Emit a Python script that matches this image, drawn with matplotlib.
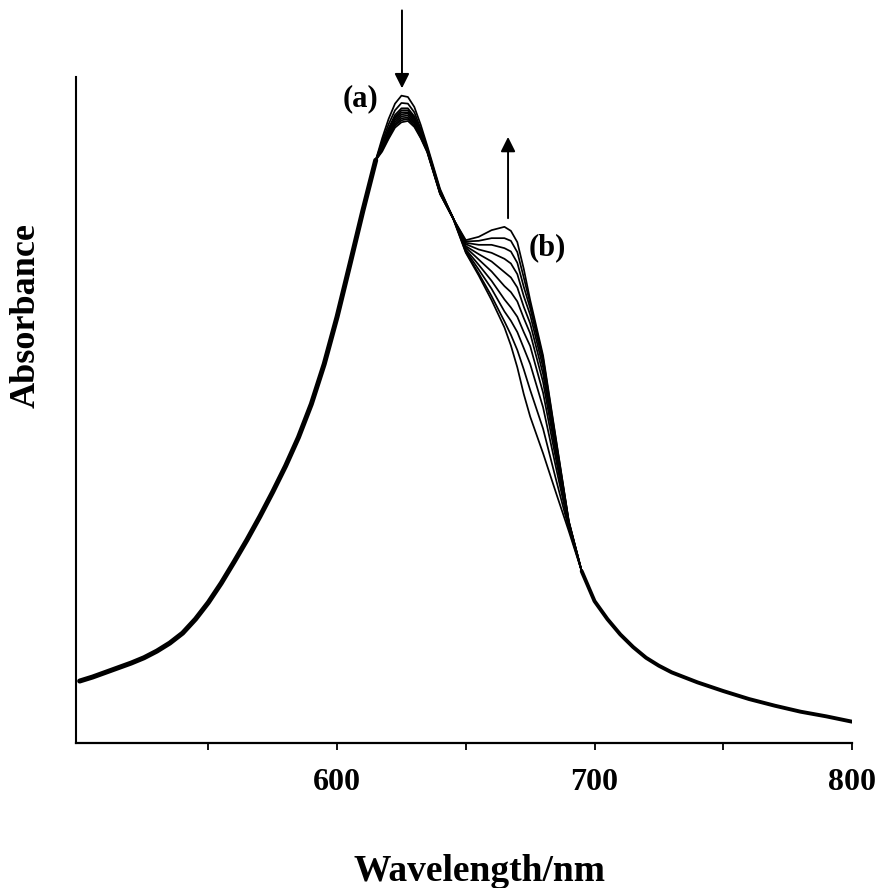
import matplotlib
matplotlib.use("Agg")
import matplotlib.pyplot as plt

plt.rcParams["font.family"] = ["Liberation Serif", "DejaVu Serif"]
plt.rcParams["font.weight"] = "bold"

# shared part of all spectra, blue side
wl_left = [500, 505, 510, 515, 520, 525, 530, 535, 540, 545, 550, 555, 560, 565,
           570, 575, 580, 585, 590, 595, 600, 605, 610, 615]
abs_left = [0.093, 0.099, 0.106, 0.113, 0.120, 0.128, 0.138, 0.150, 0.165, 0.186,
            0.211, 0.240, 0.272, 0.305, 0.340, 0.377, 0.416, 0.459, 0.509, 0.569,
            0.640, 0.719, 0.799, 0.875]

# shared part, red tail
wl_right = [695, 700, 705, 710, 715, 720, 725, 730, 740, 750, 760, 770, 780, 790, 800]
abs_right = [0.258, 0.213, 0.186, 0.163, 0.144, 0.128, 0.116, 0.106, 0.091, 0.078,
             0.066, 0.056, 0.047, 0.040, 0.032]

# main band, falls from scan to scan (a)
wl_peak = [617.5, 620, 622.5, 625, 627.5, 630, 632.5, 635]
peak_1 = [0.908, 0.937, 0.960, 0.972, 0.970, 0.955, 0.928, 0.897]
peak_2 = [0.903, 0.929, 0.950, 0.961, 0.960, 0.947, 0.922, 0.894]
peak_3 = [0.899, 0.923, 0.943, 0.953, 0.953, 0.941, 0.919, 0.892]
peak_4 = [0.897, 0.920, 0.940, 0.950, 0.950, 0.939, 0.917, 0.891]
peak_5 = [0.896, 0.918, 0.938, 0.947, 0.947, 0.937, 0.915, 0.891]
peak_6 = [0.894, 0.916, 0.935, 0.944, 0.945, 0.934, 0.914, 0.890]
peak_7 = [0.893, 0.914, 0.932, 0.941, 0.942, 0.932, 0.912, 0.889]
peak_8 = [0.891, 0.911, 0.929, 0.938, 0.939, 0.930, 0.911, 0.889]
peak_9 = [0.890, 0.909, 0.927, 0.935, 0.937, 0.927, 0.909, 0.888]
peak_10 = [0.888, 0.907, 0.924, 0.932, 0.934, 0.925, 0.908, 0.887]

# shoulder, grows from scan to scan (b)
wl_shoulder = [640, 645, 650, 655, 660, 665, 667.5, 670, 672.5, 675, 680, 685, 690]
shoulder_1 = [0.832, 0.788, 0.736, 0.702, 0.665, 0.624, 0.597, 0.564, 0.524, 0.490,
              0.435, 0.376, 0.318]
shoulder_2 = [0.830, 0.789, 0.737, 0.705, 0.671, 0.633, 0.613, 0.590, 0.561, 0.530,
              0.472, 0.396, 0.322]
shoulder_3 = [0.829, 0.789, 0.739, 0.711, 0.682, 0.648, 0.634, 0.617, 0.593, 0.569,
              0.504, 0.414, 0.325]
shoulder_4 = [0.828, 0.789, 0.741, 0.718, 0.694, 0.666, 0.654, 0.640, 0.617, 0.596,
              0.526, 0.426, 0.327]
shoulder_5 = [0.827, 0.789, 0.744, 0.726, 0.708, 0.686, 0.677, 0.663, 0.638, 0.615,
              0.542, 0.435, 0.329]
shoulder_6 = [0.826, 0.788, 0.746, 0.734, 0.723, 0.707, 0.699, 0.684, 0.655, 0.630,
              0.554, 0.442, 0.330]
shoulder_7 = [0.826, 0.788, 0.749, 0.741, 0.736, 0.727, 0.720, 0.704, 0.671, 0.643,
              0.564, 0.447, 0.331]
shoulder_8 = [0.825, 0.788, 0.751, 0.748, 0.748, 0.743, 0.738, 0.721, 0.685, 0.653,
              0.572, 0.451, 0.332]
shoulder_9 = [0.825, 0.788, 0.753, 0.754, 0.758, 0.758, 0.754, 0.737, 0.699, 0.660,
              0.578, 0.455, 0.333]
shoulder_10 = [0.824, 0.788, 0.755, 0.760, 0.770, 0.775, 0.769, 0.752, 0.712, 0.665,
               0.582, 0.457, 0.333]

peaks = [peak_1, peak_2, peak_3, peak_4, peak_5, peak_6, peak_7, peak_8, peak_9, peak_10]
shoulders = [shoulder_1, shoulder_2, shoulder_3, shoulder_4, shoulder_5,
             shoulder_6, shoulder_7, shoulder_8, shoulder_9, shoulder_10]

x_ticks = [550, 600, 650, 700, 750, 800]
x_ticklabels = ["", "600", "", "700", "", "800"]

fig = plt.figure(figsize=(8.76, 8.88), dpi=100)
ax = fig.add_axes([0.0868, 0.1633, 0.8858, 0.75])

wl_all = wl_left + wl_peak + wl_shoulder + wl_right
for p, s in zip(peaks, shoulders):
    ax.plot(wl_all, abs_left + p + s + abs_right,
            color="black", lw=1.25, solid_joinstyle="round")
# where the scans coincide they print as one thick band
ax.plot(wl_left, abs_left, color="black", lw=3.6, solid_capstyle="round")
ax.plot(wl_right, abs_right, color="black", lw=2.8, solid_capstyle="round")

ax.set_xlim(498.6, 800)
ax.set_ylim(0, 1)
ax.spines["top"].set_visible(False)
ax.spines["right"].set_visible(False)
ax.spines["left"].set_linewidth(1.5)
ax.spines["bottom"].set_linewidth(1.6)
ax.set_yticks([])
ax.set_xticks(x_ticks)
ax.set_xticklabels(x_ticklabels, fontsize=23, fontweight="bold")
ax.tick_params(axis="x", direction="out", length=5, width=1.3, pad=13)

# arrows and labels
ax.annotate("", xy=(625.2, 0.983), xytext=(625.2, 1.10), annotation_clip=False,
            arrowprops=dict(arrowstyle="-|>", color="black", lw=1.4,
                            mutation_scale=22, shrinkA=0, shrinkB=0))
ax.annotate("", xy=(666.4, 0.910), xytext=(666.4, 0.788), annotation_clip=False,
            arrowprops=dict(arrowstyle="-|>", color="black", lw=1.4,
                            mutation_scale=22, shrinkA=0, shrinkB=0))
ax.text(608.9, 0.968, "(a)", fontsize=22, fontweight="bold", ha="center", va="center")
ax.text(681.8, 0.743, "(b)", fontsize=22, fontweight="bold", ha="center", va="center")

fig.text(26 / 876, 1 - 316 / 888, "Absorbance", rotation=90, fontsize=26,
         fontweight="bold", ha="center", va="center")
fig.text(480 / 876, 1 - 871 / 888, "Wavelength/nm", fontsize=27,
         fontweight="bold", ha="center", va="center")

fig.savefig("out.png", dpi=100)
